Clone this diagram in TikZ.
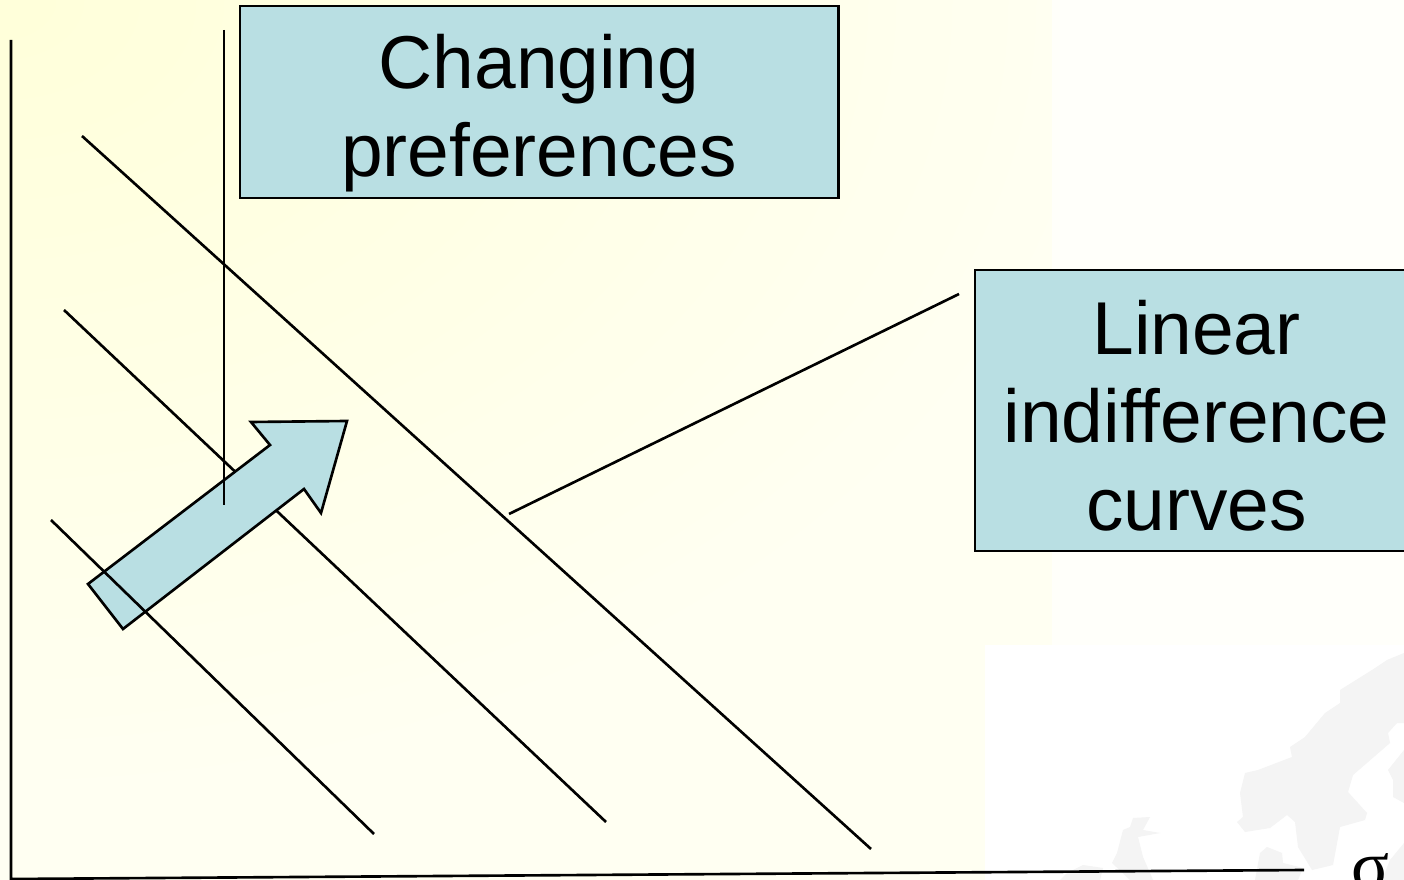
\documentclass[tikz,border=0pt]{standalone}
\usepackage{fontspec}
\setmainfont[Ligatures=NoCommon]{Liberation Sans}
\newfontfamily\sigmafont{Liberation Serif}
\usepackage{tikz}
\usetikzlibrary{calc,positioning}
\definecolor{boxblue}{HTML}{B9DFE3}
\definecolor{paleyellow}{HTML}{FFFFD9}
\definecolor{palewhite}{HTML}{FFFFF2}
\definecolor{mapgrey}{HTML}{F4F4F4}
\tikzset{
	label box/.style={draw=black,line width=0.75pt,fill=boxblue,align=center,font=\fontsize{21.3}{25}\selectfont,inner sep=0pt},
	plain line/.style={line width=0.75pt},
	map part/.style={fill=mapgrey,draw=none}
}

\begin{document}
\begin{tikzpicture}[x=0.01cm,y=-0.01cm]
\useasboundingbox (0,0) rectangle (1404,880);
\fill[palewhite] (0,0) rectangle (1052,880);
\begin{scope}
\clip (0,0) rectangle (1052,880);
\foreach \r in {800,780,...,0}
	\pgfmathsetmacro{\tint}{100-\r/8}
	\fill[paleyellow!\tint!palewhite] (0,0) ellipse ({1.4*\r} and \r);
\end{scope}
\fill[white] (985,645) rectangle (1404,880);
\fill[white!60!palewhite] (1052,0) rectangle (1404,645);
% the faint map, bottom right
\fill[map part] (1404,653) -- (1387,660) -- (1372,670) -- (1340,690) -- (1340,703) -- (1325,713) -- (1305,737) -- (1290,747) -- (1292,757) -- (1258,770) -- (1245,773) -- (1240,793) -- (1243,817) -- (1237,822) -- (1245,832) -- (1270,828) -- (1287,815) -- (1295,822) -- (1298,847) -- (1312,870) -- (1333,865) -- (1340,827) -- (1365,820) -- (1367,813) -- (1348,792) -- (1353,775) -- (1390,743) -- (1388,733) -- (1397,723) -- (1404,723) -- cycle;
\fill[map part] (1404,750) -- (1388,770) -- (1393,780) -- (1393,797) -- (1404,803) -- cycle;
\fill[map part] (1404,843) -- (1390,860) -- (1382,880) -- (1404,880) -- cycle;
\fill[map part] (1150,817) -- (1133,818) -- (1130,827) -- (1123,830) -- (1117,853) -- (1112,863) -- (1130,880) -- (1153,880) -- (1143,857) -- (1138,837) -- (1160,833) -- (1143,830) -- cycle;
\fill[map part] (1083,865) -- (1103,868) -- (1100,880) -- (1060,880) -- (1067,873) -- cycle;
\fill[map part] (1267,847) -- (1282,853) -- (1283,863) -- (1303,868) -- (1298,880) -- (1255,880) -- (1260,853) -- cycle;
% middle curve goes under the arrow
\coordinate (curve2a) at (64,310);
\coordinate (curve2b) at (606,822);
\draw[plain line] (curve2a) -- (curve2b);
\draw[plain line,fill=boxblue] (88,584) -- (123,629) -- (304,489) -- (321,513) -- (347,421) -- (251,422) -- (270,445) -- cycle;
\foreach \n/\xa/\ya/\xb/\yb in {1/82/136/871/849,3/51/520/374/834,4/224/30/224/505,5/959/294/509/514} {
	\coordinate (curve\n a) at (\xa,\ya);
	\coordinate (curve\n b) at (\xb,\yb);
	\draw[plain line] (curve\n a) -- (curve\n b);
}
% axes
\coordinate (top) at (11,40);
\coordinate (origin) at (11,879);
\coordinate (right) at (1304,870);
\draw[plain line] (top) -- (origin) -- (right);
\node (changing) at (539,102) [label box,minimum width=5.98cm,minimum height=1.92cm,text height=47pt,text depth=4.5pt] {Changing\\preferences};
\node (linear) at (1196.5,410.5) [label box,minimum width=4.43cm,minimum height=2.81cm,text height=68pt,text depth=0pt] {Linear\\indifference\\curves};
\node (sigma) at (1370,872) [font=\sigmafont\fontsize{20}{25}\selectfont,inner sep=0pt] {σ};
\end{tikzpicture}
\end{document}
